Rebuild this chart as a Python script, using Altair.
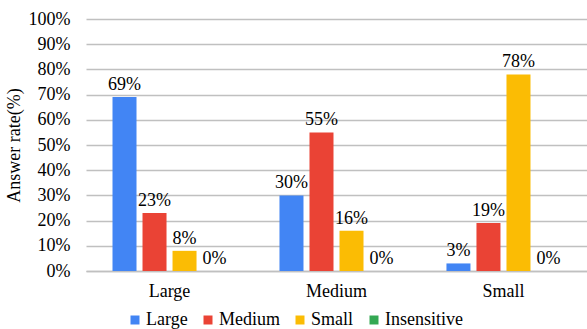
import altair as alt
import pandas as pd

groups = ["Large", "Medium", "Small"]
series = ["Large", "Medium", "Small", "Insensitive"]
colors = ["#4285F4", "#EA4335", "#FBBC04", "#34A853"]

# answer rate (%) per series across groups Large / Medium / Small
vals_large = [69, 30, 3]
vals_medium = [23, 55, 19]
vals_small = [8, 16, 78]
vals_insensitive = [0, 0, 0]

rows = []
for s, vals in zip(series, [vals_large, vals_medium, vals_small, vals_insensitive]):
    for g, v in zip(groups, vals):
        rows.append({"group": g, "series": s, "value": v / 100})
df = pd.DataFrame(rows)

FONT = "Liberation Serif"

base = alt.Chart(df).encode(
    x=alt.X(
        "group:N",
        sort=groups,
        scale=alt.Scale(paddingInner=0.317, paddingOuter=0.1587),
        axis=alt.Axis(
            title=None, labelAngle=0, ticks=False, grid=False,
            domain=True, domainColor="#c0c0c0", domainWidth=1.5,
            labelFont=FONT, labelFontSize=18, labelColor="#000000",
            labelPadding=11,
        ),
    ),
    xOffset=alt.XOffset(
        "series:N", sort=series,
        scale=alt.Scale(domain=series, paddingInner=0.2, paddingOuter=0),
    ),
    y=alt.Y(
        "value:Q",
        scale=alt.Scale(domain=[0, 1], nice=False),
        axis=alt.Axis(
            title="Answer rate(%)", values=[i / 10 for i in range(11)],
            format=".0%", ticks=False, domain=False, grid=True,
            gridColor="#c0c0c0", gridWidth=1.5,
            labelFont=FONT, labelFontSize=18, labelColor="#000000",
            labelPadding=16,
            titleFont=FONT, titleFontSize=18, titleFontWeight="normal",
            titleColor="#000000", titlePadding=5,
        ),
    ),
)

bars = base.mark_bar().encode(
    color=alt.Color(
        "series:N", sort=series,
        scale=alt.Scale(domain=series, range=colors),
        legend=alt.Legend(
            title=None, orient="none", legendX=40, legendY=292,
            direction="horizontal", symbolType="square", symbolSize=81,
            symbolStrokeWidth=0, labelFont=FONT, labelFontSize=18,
            labelColor="#000000", columnPadding=11, labelOffset=2, padding=0,
        ),
    )
)

text = base.mark_text(
    dy=-7, baseline="alphabetic", font=FONT, fontSize=18, color="#000000"
).encode(text=alt.Text("value:Q", format=".0%"))

chart = (
    alt.layer(bars, text)
    .properties(
        width=501, height=252,
        autosize=alt.AutoSizeParams(type="none"),
        padding={"left": 86, "top": 19, "right": 0, "bottom": 58},
    )
    .configure_view(stroke=None)
)

chart.save("out.html", embed_options={"renderer": "svg", "actions": False})
